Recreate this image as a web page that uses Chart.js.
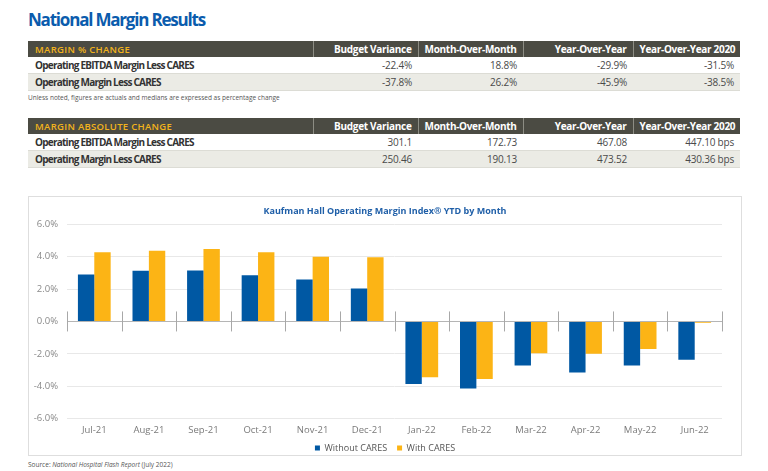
<!DOCTYPE html>
<html>
<head>
<meta charset="utf-8">
<title>National Margin Results</title>
<script src="https://cdn.jsdelivr.net/npm/chart.js@4.4.1/dist/chart.umd.min.js"></script>
<style>
    html, body {
        margin: 0;
        padding: 0;
        background: #fff;
        font-family: "Open Sans", "DejaVu Sans", sans-serif;
        width: 768px;
        height: 471px;
        overflow: hidden;
        position: relative;
    }
    h1 {
        position: absolute;
        left: 28px;
        top: 7px;
        margin: 0;
        font-size: 17px;
        line-height: 26px;
        font-weight: 700;
        color: #0b5cad;
        letter-spacing: -1.2px;
    }
    table {
        position: absolute;
        left: 28px;
        width: 712px;
        border-collapse: collapse;
        table-layout: fixed;
        font-size: 10px;
    }
    #pct-table { top: 41px; }
    #abs-table { top: 118px; }
    th, td {
        height: 16px;
        padding: 0 6px;
        line-height: 15px;
        white-space: nowrap;
        overflow: hidden;
    }
    th {
        background: #4b4b43;
        color: #fff;
        text-align: right;
        font-weight: 700;
        letter-spacing: -0.3px;
        border-left: 1px solid #8d8d84;
    }
    th.group {
        text-align: left;
        color: #f2b31c;
        font-size: 9.5px;
        letter-spacing: 0.3px;
        font-weight: 600;
        border-left: none;
        padding-left: 7px;
    }
    td {
        color: #4a4a4a;
        text-align: right;
        letter-spacing: -0.2px;
        border-bottom: 1px solid #dcdcd5;
    }
    td.label {
        text-align: left;
        font-weight: 700;
        color: #333;
        letter-spacing: -0.75px;
        padding-left: 7px;
    }
    tr.alt td { background: #ebebe5; }
    .note {
        position: absolute;
        left: 28px;
        font-size: 6.5px;
        color: #555;
    }
    #footnote { top: 93px; }
    #source { top: 460px; }
    #chart-box {
        position: absolute;
        left: 28px;
        top: 196px;
        width: 712px;
        height: 258px;
        border: 1px solid #dedede;
    }
    #chart-wrap {
        position: absolute;
        left: 29px;
        top: 197px;
        width: 712px;
        height: 258px;
    }
</style>
</head>
<body>
<h1>National Margin Results</h1>

<table id="pct-table">
    <colgroup>
        <col style="width:285px"><col style="width:105px"><col style="width:105px"><col style="width:110px"><col style="width:107px">
    </colgroup>
    <thead></thead>
    <tbody></tbody>
</table>
<div class="note" id="footnote">Unless noted, figures are actuals and medians are expressed as percentage change</div>

<table id="abs-table">
    <colgroup>
        <col style="width:285px"><col style="width:105px"><col style="width:105px"><col style="width:110px"><col style="width:107px">
    </colgroup>
    <thead></thead>
    <tbody></tbody>
</table>

<div id="chart-box"></div>
<div id="chart-wrap"><canvas id="canvas"></canvas></div>

<div class="note" id="source">Source: <i>National Hospital Flash Report</i> (July 2022)</div>

<script>
// table data
const tableColumns = ['Budget Variance', 'Month-Over-Month', 'Year-Over-Year', 'Year-Over-Year 2020'];
const rowLabels = ['Operating EBITDA Margin Less CARES', 'Operating Margin Less CARES'];
const pctEbitda = ['-22.4%', '18.8%', '-29.9%', '-31.5%'];
const pctOperating = ['-37.8%', '26.2%', '-45.9%', '-38.5%'];
const absEbitda = ['301.1', '172.73', '467.08', '447.10 bps'];
const absOperating = ['250.46', '190.13', '473.52', '430.36 bps'];

// chart data
const months = ['Jul-21', 'Aug-21', 'Sep-21', 'Oct-21', 'Nov-21', 'Dec-21',
                'Jan-22', 'Feb-22', 'Mar-22', 'Apr-22', 'May-22', 'Jun-22'];
const withoutCares = [2.90, 3.13, 3.15, 2.86, 2.59, 2.03, -3.87, -4.14, -2.72, -3.15, -2.72, -2.36];
const withCares = [4.27, 4.37, 4.47, 4.27, 4.00, 3.97, -3.45, -3.55, -1.96, -2.00, -1.70, -0.08];
const yMin = -6;
const yMax = 6;
const yStep = 2;

function fillTable(id, title, rows) {
    var table = document.getElementById(id);
    var head = '<tr><th class="group">' + title + '</th>' +
        tableColumns.map(c => '<th>' + c + '</th>').join('') + '</tr>';
    table.querySelector('thead').innerHTML = head;
    table.querySelector('tbody').innerHTML = rows.map((values, i) =>
        '<tr' + (i % 2 ? ' class="alt"' : '') + '><td class="label">' + rowLabels[i] + '</td>' +
        values.map(v => '<td>' + v + '</td>').join('') + '</tr>'
    ).join('');
}

fillTable('pct-table', 'MARGIN % CHANGE', [pctEbitda, pctOperating]);
fillTable('abs-table', 'MARGIN ABSOLUTE CHANGE', [absEbitda, absOperating]);

// short marks crossing the zero line at each category boundary
const boundaryTicks = {
    id: 'boundaryTicks',
    afterDatasetsDraw(chart) {
        const {ctx, scales: {x, y}} = chart;
        const zero = y.getPixelForValue(0);
        const step = x.width / months.length;
        ctx.save();
        ctx.strokeStyle = '#a8a8a8';
        ctx.lineWidth = 1;
        for (let i = 0; i <= months.length; i++) {
            const px = Math.round(x.left + i * step) + 0.5;
            ctx.beginPath();
            ctx.moveTo(px, zero - 10);
            ctx.lineTo(px, zero + 10);
            ctx.stroke();
        }
        ctx.restore();
    }
};

// legend sits closer to the axis labels than chart.js allows by default
const tightLegend = {
    id: 'tightLegend',
    beforeInit(chart) {
        const fit = chart.legend.fit;
        chart.legend.fit = function() {
            fit.bind(chart.legend)();
            this.height -= 16;
        };
    },
    afterLayout(chart) {
        // only the top moves, so the clip box still holds the text
        chart.legend.top -= 8.5;
    }
};

Chart.defaults.font.family = '"Open Sans", "DejaVu Sans", sans-serif';

var ctx = document.getElementById('canvas').getContext('2d');
var marginChart = new Chart(ctx, {
    type: 'bar',
    data: {
        labels: months,
        datasets: [{
            label: 'Without CARES',
            data: withoutCares,
            backgroundColor: '#0058a3',
        }, {
            label: 'With CARES',
            data: withCares,
            backgroundColor: '#fcb415',
        }]
    },
    plugins: [boundaryTicks, tightLegend],
    options: {
        responsive: true,
        maintainAspectRatio: false,
        animation: false,
        categoryPercentage: 0.6,
        barPercentage: 1.0,
        layout: {
            padding: 0
        },
        plugins: {
            title: {
                display: true,
                text: 'Kaufman Hall Operating Margin Index\u00AE YTD by Month',
                color: '#1f5fa8',
                font: {size: 9, weight: 'bold'},
                padding: {top: 9, bottom: 7.5},
            },
            legend: {
                position: 'bottom',
                labels: {
                    boxWidth: 5,
                    boxHeight: 5,
                    padding: 10,
                    color: '#555',
                    font: {size: 9},
                }
            },
            tooltip: {enabled: false},
        },
        scales: {
            x: {
                grid: {display: false, drawTicks: false},
                border: {display: false},
                ticks: {color: '#7a7a7a', font: {size: 9.5}, padding: 6},
            },
            y: {
                min: yMin,
                max: yMax,
                afterFit: (scale) => { scale.width = 38; },
                grid: {
                    drawTicks: false,
                    color: (c) => c.tick && c.tick.value === 0 ? '#b5b5b5' : '#e8e8e8',
                },
                border: {display: false},
                ticks: {
                    stepSize: yStep,
                    color: '#8a8a8a',
                    font: {size: 9.5},
                    padding: 9,
                    callback: (v) => v.toFixed(1) + '%',
                },
            },
            // empty axis that only keeps the right margin of the plot
            yRight: {
                position: 'right',
                afterFit: (scale) => { scale.width = 19; },
                grid: {display: false, drawTicks: false},
                border: {display: false},
                ticks: {display: false},
            }
        }
    }
});
</script>
</body>
</html>
